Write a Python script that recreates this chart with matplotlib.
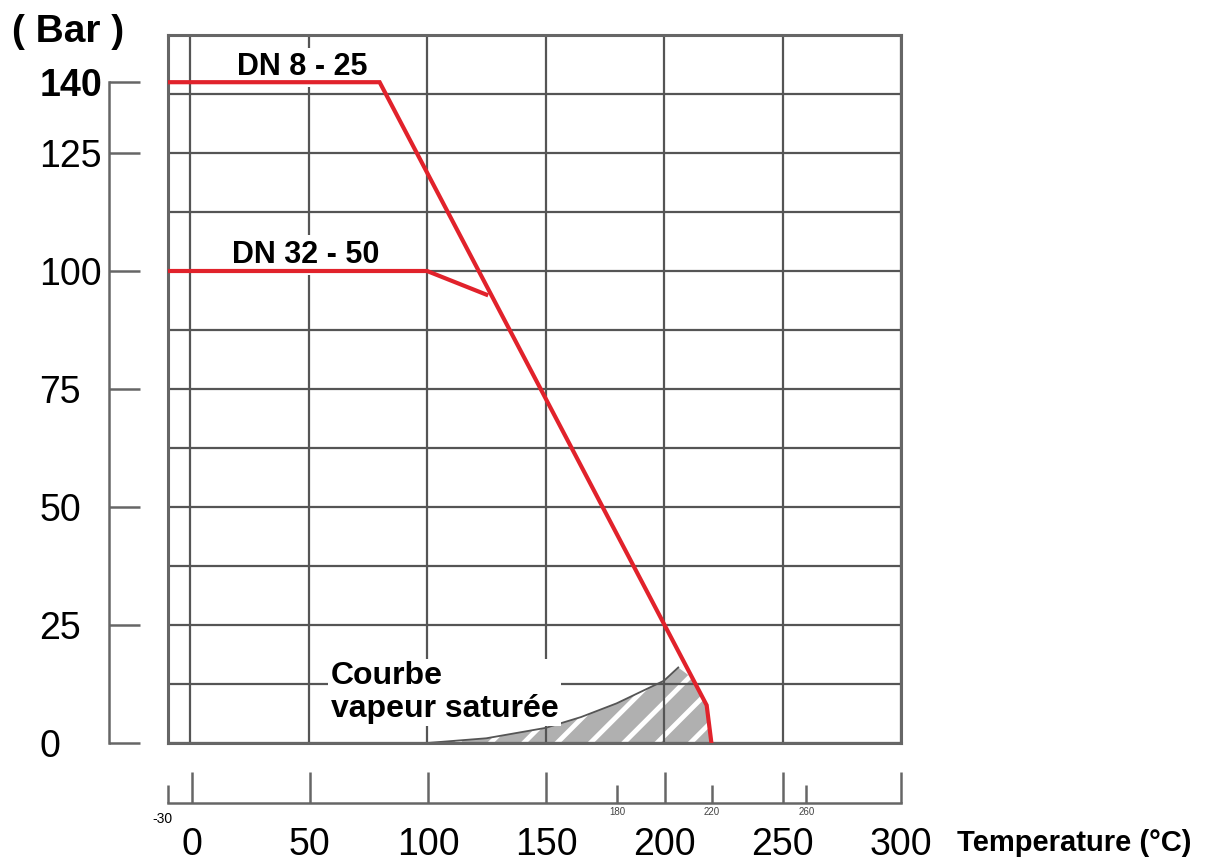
import numpy as np
import matplotlib
matplotlib.use('Agg')
import matplotlib.pyplot as plt

plt.rcParams['font.family'] = ['Liberation Sans', 'DejaVu Sans']
plt.rcParams['hatch.linewidth'] = 3.5

# pressure / temperature rating curves (bar vs degC)
dn_small_temp = [-10, 80, 218, 220]
dn_small_press = [140, 140, 8, 0]
dn_large_temp = [-10, 100, 125]
dn_large_press = [100, 100, 95]

# saturated steam curve (hatched area below it)
steam_temp = [100, 125, 150, 165, 180, 200, 206]
steam_press = [0, 1, 3.2, 5.5, 8.4, 13.2, 16]

y_ticks = [0, 25, 50, 75, 100, 125, 140]
y_labels = ['0', '25', '50', '75', '100', '125', '140']
x_major = [0, 50, 100, 150, 200, 250, 300]
x_minor = [-10, 180, 220, 260]
x_minor_labels = ['', '180', '220', '260']

W, H = 1229, 863
fig = plt.figure(figsize=(W / 100, H / 100), dpi=100)

grid_col = '#555555'
red = '#e1222b'

# main chart area
ax = fig.add_axes([168 / W, 1 - 743 / H, 733 / W, 708 / H])
ax.set_xlim(-9.3, 300)
ax.set_ylim(0, 150)
ax.set_xticks(x_major)
ax.set_yticks(np.arange(0, 151, 12.5))
ax.tick_params(length=0, labelbottom=False, labelleft=False)
ax.grid(True, color=grid_col, linewidth=1.6)
for s in ax.spines.values():
    s.set_color('#666666')
    s.set_linewidth(2.2)

# hatched zone under the steam curve, cut by the DN 8-25 line
edge_t = 212
edge_p = np.interp(edge_t, dn_small_temp, dn_small_press)
fill_t = steam_temp + [edge_t] + [t for t in dn_small_temp if t > edge_t] + [steam_temp[0]]
fill_p = steam_press + [edge_p] + [p for t, p in zip(dn_small_temp, dn_small_press) if t > edge_t] + [0]
ax.fill(fill_t, fill_p, facecolor='#b0b0b0', edgecolor='white', hatch='/', linewidth=0, zorder=1)
ax.plot(steam_temp, steam_press, color='#555555', linewidth=1.3, zorder=2)

ax.plot(dn_small_temp, dn_small_press, color=red, linewidth=3, zorder=5, solid_joinstyle='miter')
ax.plot(dn_large_temp, dn_large_press, color=red, linewidth=3, zorder=5)

box = dict(facecolor='white', edgecolor='none', boxstyle='square,pad=0.15')
ax.text(47.5, 143.2, 'DN 8 - 25', fontsize=22, fontweight='bold', ha='center', va='center',
        bbox=box, zorder=3)
ax.text(49, 103.4, 'DN 32 - 50', fontsize=22, fontweight='bold', ha='center', va='center',
        bbox=box, zorder=3)
ax.text(59.5, 10.7, 'Courbe\nvapeur saturée', fontsize=23, fontweight='bold', ha='left',
        va='center', linespacing=1.1, bbox=dict(facecolor='white', edgecolor='none',
                                                boxstyle='square,pad=0.08'), zorder=3)

# separate pressure scale on the left
axl = fig.add_axes([109 / W, 1 - 743 / H, 0.01, 708 / H])
axl.set_ylim(0, 150)
axl.set_xticks([])
for k in ['top', 'right', 'bottom']:
    axl.spines[k].set_visible(False)
axl.spines['left'].set_bounds(0, 140)
axl.spines['left'].set_color('#666666')
axl.spines['left'].set_linewidth(1.8)
axl.patch.set_visible(False)
axl.set_yticks(y_ticks)
axl.set_yticklabels(y_labels, fontsize=27, ha='left')
axl.tick_params(axis='y', direction='in', length=22, width=1.8, color='#666666', pad=50)
axl.get_yticklabels()[-1].set_fontweight('bold')
fig.text(12 / W, 1 - 32 / H, '( Bar )', fontsize=28, fontweight='bold', ha='left', va='center')

# separate temperature scale below
axb = fig.add_axes([168 / W, 1 - 803 / H, 733 / W, 0.04])
axb.set_xlim(-9.3, 300)
axb.set_yticks([])
for k in ['top', 'right', 'left']:
    axb.spines[k].set_visible(False)
axb.spines['bottom'].set_color('#666666')
axb.spines['bottom'].set_linewidth(1.8)
axb.patch.set_visible(False)
axb.set_xticks(x_major)
axb.set_xticklabels([str(v) for v in x_major], fontsize=27)
axb.set_xticks(x_minor, minor=True)
axb.set_xticklabels(x_minor_labels, minor=True, fontsize=7, color='#444444')
axb.tick_params(axis='x', which='major', direction='in', length=22, width=1.8, color='#666666', pad=17)
axb.tick_params(axis='x', which='minor', direction='in', length=13, width=1.8, color='#666666', pad=3)
axb.text(-12.5, -0.45, '-30', fontsize=10, ha='center', va='center', transform=axb.get_xaxis_transform())
fig.text(957 / W, 1 - 843 / H, 'Temperature (°C)', fontsize=21, fontweight='bold', ha='left', va='center')

fig.savefig('out.png', dpi=100)
